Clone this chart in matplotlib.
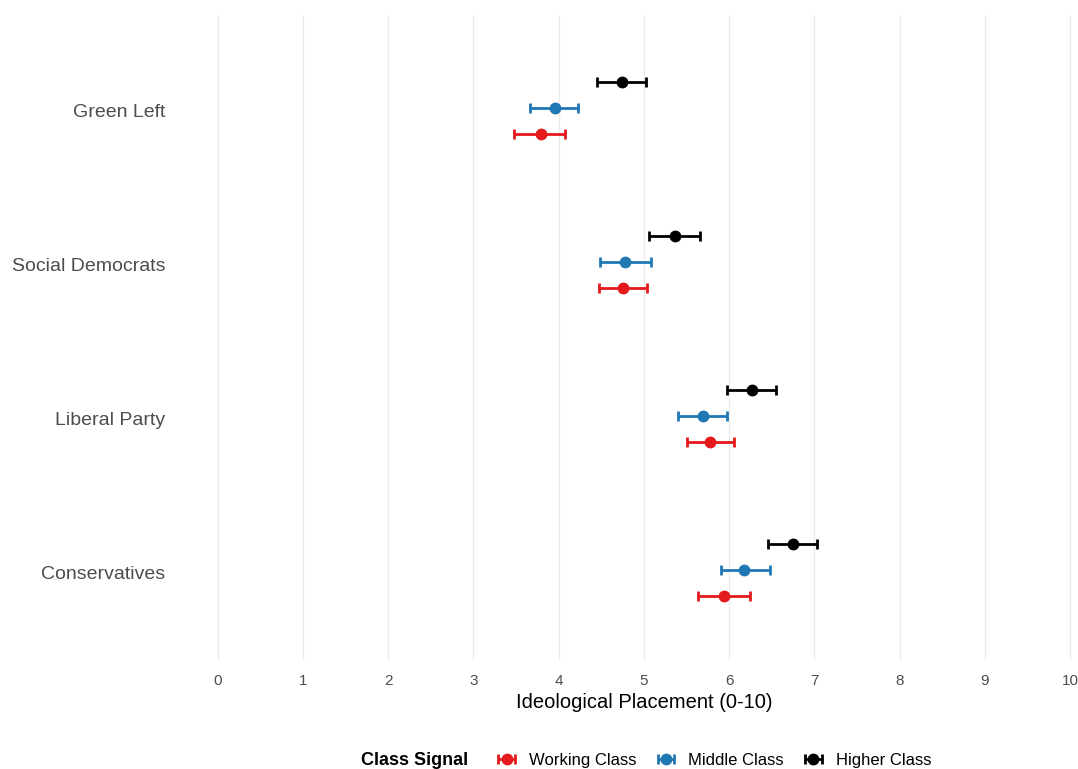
import numpy as np
import matplotlib.pyplot as plt

plt.rcParams['font.family'] = ['Liberation Sans', 'DejaVu Sans']

parties = ['Green Left', 'Social Democrats', 'Liberal Party', 'Conservatives']
classes = ['Working Class', 'Middle Class', 'Higher Class']
colors = ['#e41a1c', '#1f78b4', '#000000']

# mean placement and 95% CI per class, order follows parties
working_mean = [3.79, 4.76, 5.78, 5.94]
working_low = [3.48, 4.47, 5.50, 5.64]
working_high = [4.08, 5.04, 6.06, 6.24]

middle_mean = [3.96, 4.78, 5.69, 6.18]
middle_low = [3.66, 4.48, 5.40, 5.90]
middle_high = [4.23, 5.08, 5.97, 6.48]

higher_mean = [4.74, 5.37, 6.27, 6.75]
higher_low = [4.45, 5.06, 5.97, 6.46]
higher_high = [5.03, 5.66, 6.55, 7.03]

means = [working_mean, middle_mean, higher_mean]
lows = [working_low, middle_low, higher_low]
highs = [working_high, middle_high, higher_high]
offsets = [0.156, -0.013, -0.18]

fig = plt.figure(figsize=(10.78, 7.69), dpi=100)
ax = fig.add_axes([0.1623, 0.1417, 0.870, 0.8388])

ypos = np.arange(len(parties))
handles = []
for i in range(3):
    m = np.array(means[i])
    lo = m - np.array(lows[i])
    hi = np.array(highs[i]) - m
    h = ax.errorbar(m, ypos + offsets[i], xerr=[lo, hi], fmt='o', color=colors[i],
                    markersize=7.5, elinewidth=2, capsize=3.5, capthick=2,
                    label=classes[i], zorder=3)
    handles.append(h)

ax.set_xlim(-0.5, 10.5)
ax.set_ylim(3.571, -0.617)
ax.set_xticks(range(11))
ax.set_yticks(ypos)
ax.set_yticklabels(parties)
ax.grid(axis='x', color='#ebebeb', linewidth=1)
ax.grid(axis='y', visible=False)
for s in ax.spines.values():
    s.set_visible(False)
ax.tick_params(axis='both', length=0, colors='#4d4d4d')
ax.tick_params(axis='y', labelsize=14, pad=7)
ax.tick_params(axis='x', labelsize=11, pad=10)
ax.set_xlabel('Ideological Placement (0-10)', fontsize=14.5, labelpad=4)

fig.text(0.335, 0.0117, 'Class Signal', fontsize=13, fontweight='bold', va='center')
fig.legend(handles=handles, labels=classes, loc='center left',
           bbox_to_anchor=(0.443, 0.0117), ncol=3, frameon=False,
           fontsize=12, handlelength=1.7, handletextpad=0.5, columnspacing=0.9)

fig.savefig('out.png', dpi=100)
